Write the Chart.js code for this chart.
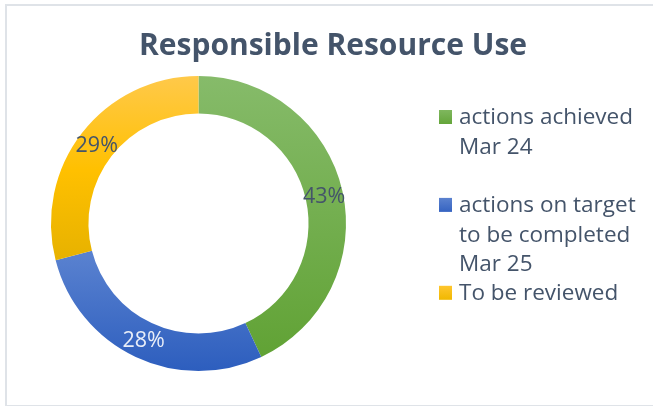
<!DOCTYPE html>
<html>
<head>
<meta charset="utf-8">
<script src="https://cdn.jsdelivr.net/npm/chart.js"></script>
<style>
  html, body { margin: 0; padding: 0; background: #fff; }
  body { width: 653px; height: 406px; overflow: hidden; position: relative; }
  .frame {
    position: absolute; left: 5px; top: 4px;
    width: 670px; height: 399px;
    border: 2px solid #dfe3e8;
  }
  canvas { position: absolute; left: 0; top: 0; }
</style>
</head>
<body>
<div class="frame"></div>
<canvas id="ringChart" width="653" height="406"></canvas>

<script>
// data
const chartTitle = 'Responsible Resource Use';
const categories = ['actions achieved Mar 24', 'actions on target to be completed Mar 25', 'To be reviewed'];
const values = [43, 28, 29];

// styles
const textColor = '#44546a';
const pctColors = ['#44546a', '#e9eef8', '#44546a'];
const sliceStops = [
  [[0, '#86bb6a'], [1, '#5fa132']],
  [[0.55, '#5f86d2'], [1, '#2d5ebe']],
  [[0, '#ffc94a'], [0.32, '#ffc000'], [0.62, '#e7b200']]
];
const markerColors = [['#7fb75e', '#64a53a'], ['#5b82cf', '#3563c1'], ['#ffc62e', '#f0b800']];

function ringGradient(chart, stops) {
  const a = chart.chartArea;
  if (!a) return stops[0][1];
  const g = chart.ctx.createLinearGradient(0, a.top, 0, a.bottom);
  stops.forEach(s => g.addColorStop(s[0], s[1]));
  return g;
}

function wrapText(ctx, text, maxWidth) {
  const words = text.split(' ');
  const lines = [];
  let line = '';
  words.forEach(w => {
    const test = line ? line + ' ' + w : w;
    if (line && ctx.measureText(test).width > maxWidth) {
      lines.push(line);
      line = w;
    } else {
      line = test;
    }
  });
  if (line) lines.push(line);
  return lines;
}

// percentages on the ring
const ringLabels = {
  id: 'ringLabels',
  afterDatasetsDraw(chart) {
    const ctx = chart.ctx;
    const meta = chart.getDatasetMeta(0);
    const total = values.reduce((a, b) => a + b, 0);
    ctx.save();
    ctx.font = '21.5px "Open Sans"';
    ctx.textAlign = 'center';
    ctx.textBaseline = 'middle';
    meta.data.forEach((arc, i) => {
      const p = arc.tooltipPosition();
      ctx.fillStyle = pctColors[i];
      ctx.fillText(Math.round(values[i] / total * 100) + '%', p.x, p.y + 1);
    });
    ctx.restore();
  }
};

// title + side legend, Excel style
const sideLegend = {
  id: 'sideLegend',
  afterDraw(chart) {
    const ctx = chart.ctx;
    ctx.save();
    ctx.fillStyle = textColor;
    ctx.font = 'bold 30px "Open Sans"';
    ctx.textAlign = 'center';
    ctx.textBaseline = 'middle';
    ctx.fillText(chartTitle, 333, 46);

    ctx.font = '22.5px "Open Sans"';
    ctx.textAlign = 'left';
    const lineH = 29.3;
    const startY = 117;
    categories.forEach((c, i) => {
      const y0 = startY + i * lineH * 3;
      const mg = ctx.createLinearGradient(0, y0 - 7, 0, y0 + 7);
      mg.addColorStop(0, markerColors[i][0]);
      mg.addColorStop(1, markerColors[i][1]);
      ctx.fillStyle = mg;
      ctx.fillRect(439, y0 - 7, 13, 14);
      ctx.fillStyle = textColor;
      wrapText(ctx, c, 186).forEach((ln, j) => {
        ctx.fillText(ln, 459, y0 + j * lineH + 1);
      });
    });
    ctx.restore();
  }
};

new Chart(document.getElementById('ringChart'), {
  type: 'doughnut',
  data: {
    labels: categories,
    datasets: [{
      data: values,
      backgroundColor: c => ringGradient(c.chart, sliceStops[c.dataIndex]),
      borderWidth: 0
    }]
  },
  options: {
    responsive: false,
    animation: false,
    cutout: '74.6%',
    layout: { padding: { left: 51, right: 307, top: 76, bottom: 35 } },
    plugins: {
      legend: { display: false },
      title: { display: false },
      tooltip: { enabled: false }
    }
  },
  plugins: [ringLabels, sideLegend]
});
</script>
</body>
</html>
